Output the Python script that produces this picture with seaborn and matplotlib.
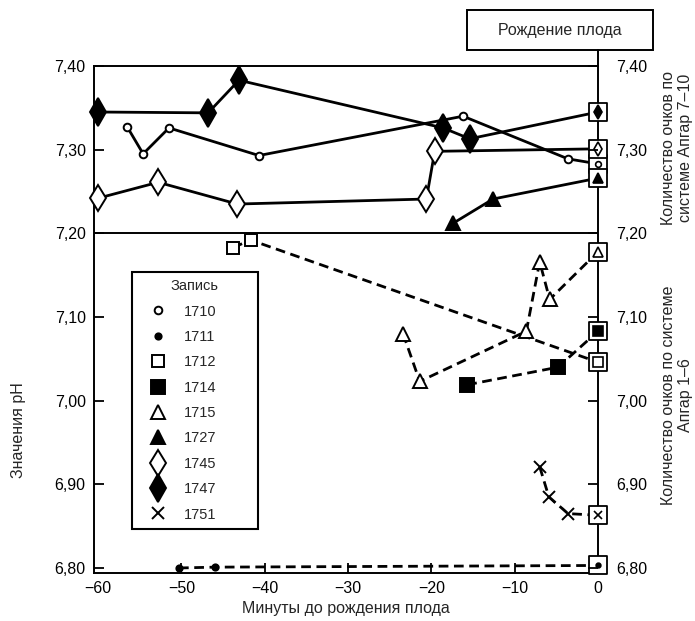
"""
pH плода перед рождением: воспроизведение графика
"""

import matplotlib
matplotlib.use('Agg')
import matplotlib.pyplot as plt
from matplotlib.lines import Line2D
from matplotlib.patches import Rectangle
import seaborn as sns
import pandas as pd

# ============================================
# Данные
# ============================================

rec_1710_x = [-56.5, -54.6, -51.5, -40.7, -16.2, -3.6, 0]
rec_1710_y = [7.327, 7.295, 7.326, 7.293, 7.340, 7.289, 7.283]

rec_1711_x = [-50.3, -46.0, 0]
rec_1711_y = [6.800, 6.801, 6.803]

rec_1712_x = [-43.8, -41.7, 0]
rec_1712_y = [7.183, 7.192, 7.046]

rec_1714_x = [-15.7, -4.8, 0]
rec_1714_y = [7.019, 7.040, 7.083]

rec_1715_x = [-23.4, -21.4, -8.6, -7.0, -5.8, 0]
rec_1715_y = [7.080, 7.023, 7.083, 7.166, 7.121, 7.178]

rec_1727_x = [-17.4, -12.6, 0]
rec_1727_y = [7.212, 7.241, 7.266]

rec_1745_x = [-60.0, -52.8, -43.3, -20.6, -19.6, 0]
rec_1745_y = [7.242, 7.261, 7.235, 7.241, 7.298, 7.301]

rec_1747_x = [-60.0, -46.8, -43.1, -18.6, -15.4, 0]
rec_1747_y = [7.345, 7.344, 7.383, 7.326, 7.313, 7.345]

rec_1751_x = [-7.0, -5.9, -3.6, 0]
rec_1751_y = [6.921, 6.885, 6.865, 6.863]

x_ticks = [-60, -50, -40, -30, -20, -10, 0]
x_tick_labels = ['−60', '−50', '−40', '−30', '−20', '−10', '0']
y_ticks = [6.80, 6.90, 7.00, 7.10, 7.20, 7.30, 7.40]
y_tick_labels = ['6,80', '6,90', '7,00', '7,10', '7,20', '7,30', '7,40']

# ============================================
# Оформление
# ============================================

sns.set_style('ticks')
plt.rcParams['font.family'] = ['Liberation Sans', 'DejaVu Sans']

W, H = 695, 621
fig = plt.figure(figsize=(W / 100, H / 100), dpi=100)

# оси в пикселях: x 94..598, y 66..573
ax = fig.add_axes([94 / W, (H - 573) / H, 504 / W, 507 / H])
ax.set_xlim(-60.5, 0)
ax.set_ylim(6.794, 7.40)

# name, x, y, marker, size, facecolor, linestyle
series = [
    ('1747', rec_1747_x, rec_1747_y, 'd', 14, 'black', '-'),
    ('1710', rec_1710_x, rec_1710_y, 'o', 5.5, 'white', '-'),
    ('1745', rec_1745_x, rec_1745_y, 'd', 13, 'white', '-'),
    ('1727', rec_1727_x, rec_1727_y, '^', 10, 'black', '-'),
    ('1712', rec_1712_x, rec_1712_y, 's', 9, 'white', '--'),
    ('1715', rec_1715_x, rec_1715_y, '^', 10, 'white', '--'),
    ('1714', rec_1714_x, rec_1714_y, 's', 10, 'black', '--'),
    ('1751', rec_1751_x, rec_1751_y, 'x', 8, 'black', '--'),
    ('1711', rec_1711_x, rec_1711_y, 'o', 4.5, 'black', '--'),
]

for name, xs, ys, mk, ms, fc, ls in series:
    df = pd.DataFrame({'t': xs, 'ph': ys})
    sns.lineplot(data=df, x='t', y='ph', ax=ax, sort=False, estimator=None,
                 color='black', linewidth=2.0, legend=False, zorder=3)
    ax.lines[-1].set_linestyle(ls)
    if ls == '--':
        ax.lines[-1].set_dashes((3.5, 2))
    ax.lines[-1].set_clip_on(False)

# рамки Апгар вокруг точек в момент рождения
for name, xs, ys, mk, ms, fc, ls in series:
    sns.scatterplot(x=[xs[-1]], y=[ys[-1]], ax=ax, marker='s', s=12.5 ** 2,
                    facecolor='white', edgecolor='black', linewidth=1.3,
                    zorder=6, clip_on=False, legend=False)

# маркеры точек
for name, xs, ys, mk, ms, fc, ls in series:
    ax.plot(xs[:-1], ys[:-1], linestyle='none', marker=mk, markersize=ms,
            markerfacecolor=fc, markeredgecolor='black', markeredgewidth=1.4,
            zorder=7, clip_on=False)
    ax.plot([xs[-1]], [ys[-1]], linestyle='none', marker=mk,
            markersize=min(ms * 0.75, 7.5), markerfacecolor=fc,
            markeredgecolor='black', markeredgewidth=1.2, zorder=8, clip_on=False)

# линия 7,20
ax.axhline(7.20, color='black', linewidth=1.4, zorder=2)

# оси и деления
for side in ['left', 'right', 'top', 'bottom']:
    ax.spines[side].set_visible(True)
    ax.spines[side].set_color('black')
    ax.spines[side].set_linewidth(1.4)

ax.set_xticks(x_ticks)
ax.set_xticklabels(x_tick_labels)
ax.set_yticks(y_ticks)
ax.set_yticklabels(y_tick_labels)
ax.tick_params(axis='both', direction='in', length=7, width=1.3,
               labelsize=11.5, colors='black', pad=6)
ax.xaxis.get_major_ticks()[0].tick1line.set_visible(False)

# правая шкала со своим отступом подписей
ax2 = ax.twinx()
ax2.set_ylim(ax.get_ylim())
ax2.set_yticks(y_ticks)
ax2.set_yticklabels(y_tick_labels)
ax2.tick_params(axis='y', direction='in', length=7, width=1.3,
                labelsize=11.5, colors='black', pad=13)
for side in ['left', 'right', 'top', 'bottom']:
    ax2.spines[side].set_visible(False)

ax.set_xlabel('Минуты до рождения плода', fontsize=11.5, labelpad=3)
ax.set_ylabel('Значения pH', fontsize=11.5)
ax.yaxis.set_label_coords(-0.134, 0.282)
ax.grid(False)

# легенда
handles = []
for name, xs, ys, mk, ms, fc, ls in sorted(series, key=lambda s: s[0]):
    handles.append(Line2D([], [], linestyle='none', marker=mk, markersize=ms,
                          markerfacecolor=fc, markeredgecolor='black',
                          markeredgewidth=1.4, label=name))
leg = ax2.legend(handles=handles, title='Запись', loc='upper left',
                 bbox_to_anchor=(0.075, 0.083, 0.25, 0.511), mode='expand',
                 frameon=True, fancybox=False,
                 fontsize=10.5, title_fontsize=10.5, labelspacing=0.78,
                 handlelength=2.6, handletextpad=0.5, borderpad=0.5,
                 borderaxespad=0)
leg.get_frame().set_edgecolor('black')
leg.get_frame().set_linewidth(1.5)
leg.get_frame().set_alpha(1)
leg.set_zorder(10)

# подписи справа
fig.text(677 / W, 1 - 148 / H, 'Количество очков по\nсистеме Апгар 7–10',
         rotation=90, ha='center', va='center', fontsize=11.5,
         multialignment='center')
fig.text(677 / W, 1 - 395 / H, 'Количество очков по системе\nАпгар 1–6',
         rotation=90, ha='center', va='center', fontsize=11.5,
         multialignment='center')

# рамка «Рождение плода»
fig.patches.append(Rectangle((467 / W, 1 - 50 / H), 186 / W, 40 / H,
                             transform=fig.transFigure, fill=False,
                             edgecolor='black', linewidth=1.4))
fig.text(560 / W, 1 - 30 / H, 'Рождение плода', ha='center', va='center',
         fontsize=11.5)
fig.lines.append(Line2D([598 / W, 598 / W], [1 - 66 / H, 1 - 50 / H],
                        transform=fig.transFigure, color='black', linewidth=1.4))

plt.savefig('out.png', dpi=100)
print("Saved: out.png")
